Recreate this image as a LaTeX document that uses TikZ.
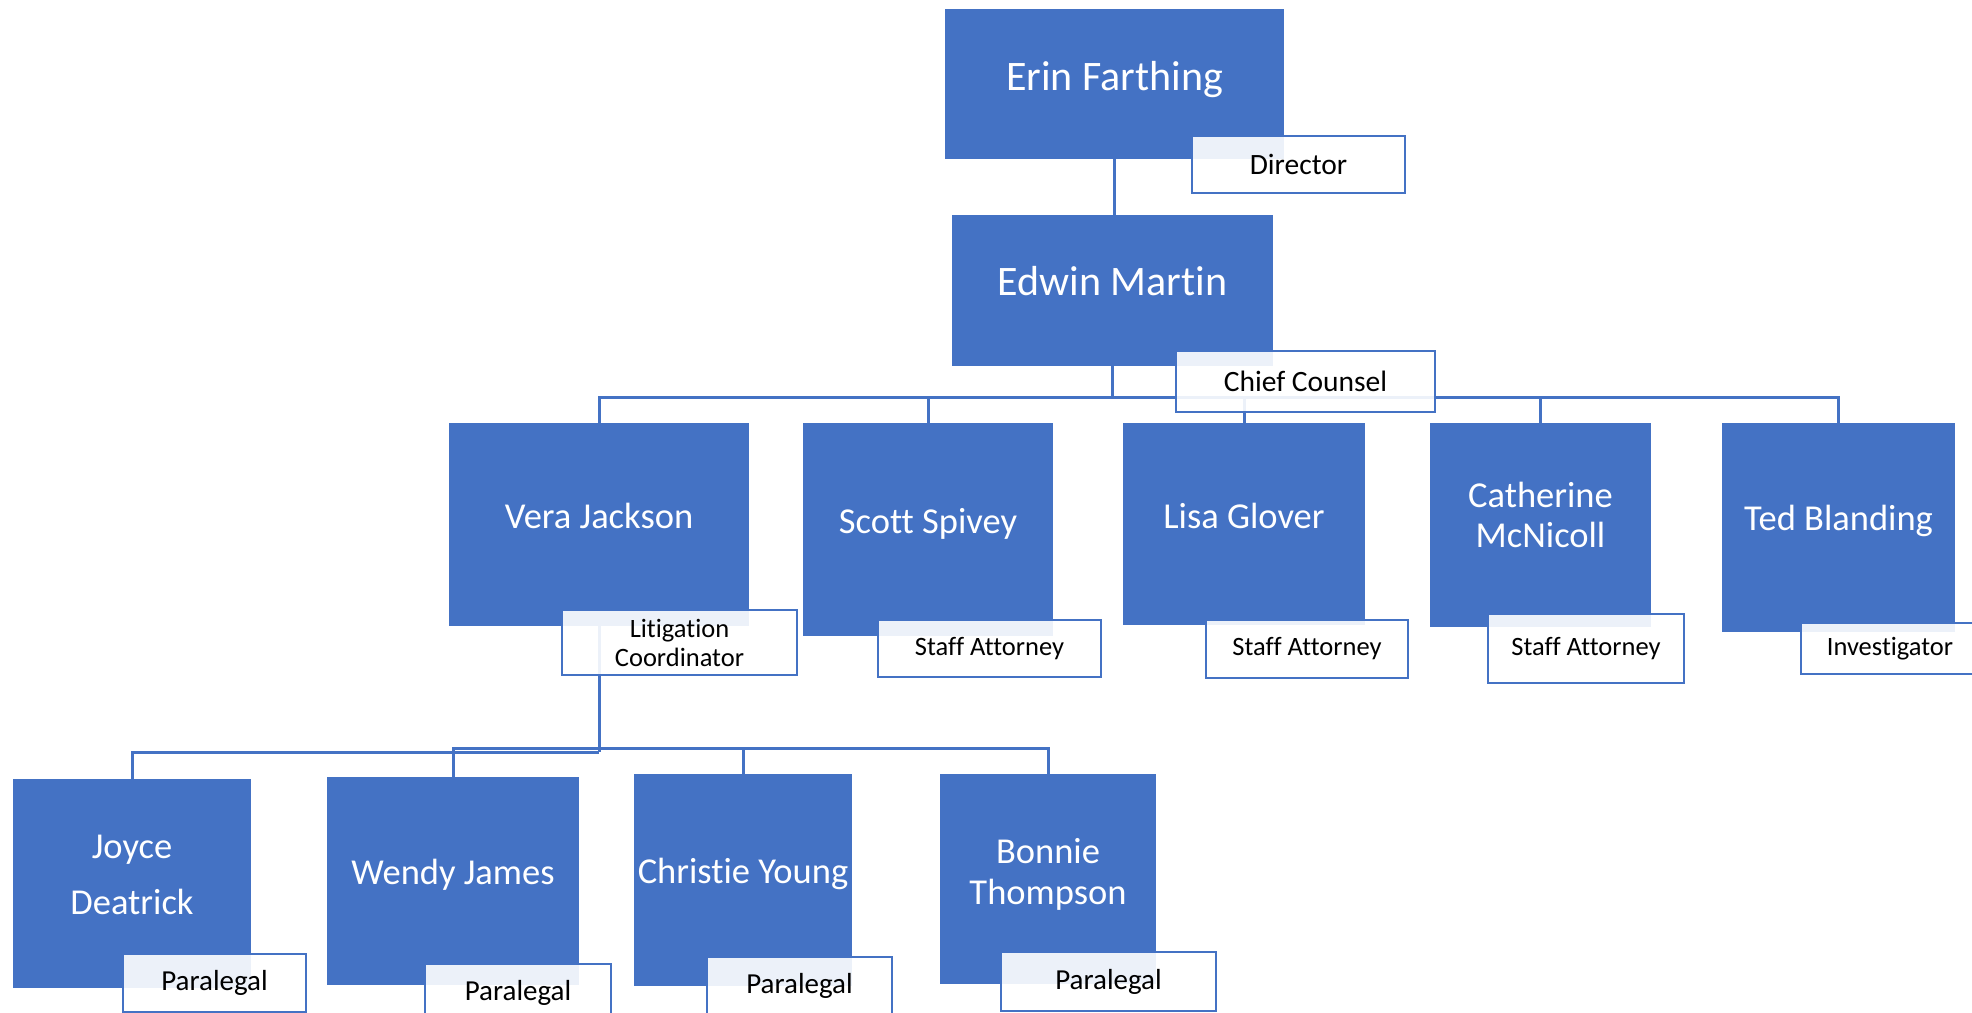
\documentclass[tikz,border=0pt]{standalone}
\usepackage{fontspec}
\setmainfont{Carlito}[RawFeature={-liga;-clig}]
\usetikzlibrary{calc}
\pgfdeclarelayer{background}
\pgfsetlayers{background,main}
\definecolor{orgblue}{HTML}{4472C4}

\begin{document}
\begin{tikzpicture}[x=1pt,y=-1pt,
  person/.style={fill=orgblue, inner sep=0pt, outer sep=0pt},
  pname/.style={text=white, inner sep=0pt, align=center, font=\fontsize{36.5}{40}\selectfont},
  topname/.style={pname, font=\fontsize{42}{46}\selectfont},
  role/.style={draw=orgblue, line width=2.5pt, fill=white, fill opacity=0.9, text opacity=1,
    text=black, inner sep=0pt, align=center, font=\fontsize{26.5}{29}\selectfont},
  bigrole/.style={role, font=\fontsize{29.5}{32}\selectfont},
  parole/.style={role, font=\fontsize{29}{32}\selectfont},
  link/.style={draw=orgblue, line width=3pt}
]
\useasboundingbox (0,0) rectangle (1972,1012);
\clip (0,0) rectangle (1972,1012);

% ---- person boxes ----
\node[person, minimum width=339pt, minimum height=150pt] (erin)     at (1114.5,84)    {};
\node[person, minimum width=321pt, minimum height=151pt] (edwin)    at (1112.5,290.5) {};
\node[person, minimum width=300pt, minimum height=203pt] (vera)     at (599,524.5)    {};
\node[person, minimum width=250pt, minimum height=213pt] (scott)    at (928,529.5)    {};
\node[person, minimum width=242pt, minimum height=202pt] (lisa)     at (1244,524)     {};
\node[person, minimum width=221pt, minimum height=204pt] (cath)     at (1540.5,525)   {};
\node[person, minimum width=233pt, minimum height=209pt] (ted)      at (1838.5,527.5) {};
\node[person, minimum width=238pt, minimum height=209pt] (joyce)    at (132,883.5)    {};
\node[person, minimum width=252pt, minimum height=208pt] (wendy)    at (453,881)      {};
\node[person, minimum width=218pt, minimum height=212pt] (christie) at (743,880)      {};
\node[person, minimum width=216pt, minimum height=210pt] (bonnie)   at (1048,879)     {};

% ---- names ----
\node[topname, anchor=base] (erinT)  at (1114.5,90)  {Erin Farthing};
\node[topname, anchor=base] (edwinT) at (1112.5,295) {Edwin Martin};
\node[pname, anchor=base] (veraT)    at (599,528)    {Vera Jackson};
\node[pname, anchor=base] (scottT)   at (928,533)    {Scott Spivey};
\node[pname, anchor=base] (lisaT)    at (1244,528)   {Lisa Glover};
\node[pname] (cathT)                 at (1540.5,515) {Catherine\\McNicoll};
\node[pname, anchor=base] (tedT)     at (1838.5,530) {Ted Blanding};
\node[pname, font=\fontsize{36.5}{56}\selectfont] (joyceT) at (132,875) {Joyce\\Deatrick};
\node[pname, anchor=base] (wendyT)   at (453,884)    {Wendy James};
\node[pname, anchor=base] (christieT) at (743,883)   {Christie Young};
\node[pname, font=\fontsize{36.5}{41}\selectfont] (bonnieT) at (1048,874) {Bonnie\\Thompson};

% ---- connectors ----
\coordinate (busA) at (0,397);
\coordinate (busB) at (0,748);
\coordinate (busJ) at (0,752);
\begin{pgfonlayer}{background}
  \coordinate (hubA) at (edwin.south |- busA);
  \coordinate (hubB) at (vera.south |- busB);
  \coordinate (hubJ) at (vera.south |- busJ);
  \draw[link] (erin.south) -- (erin.south |- edwin.north);
  \draw[link] (edwin.south) -- (hubA);
  \foreach \c in {vera,scott,lisa,cath,ted} \draw[link] (hubA) -| (\c.north);
  \draw[link] (vera.south) -- (hubJ);
  \draw[link] (hubJ) -| (joyce.north);
  \foreach \c in {wendy,christie,bonnie} \draw[link] (hubB) -| (\c.north);
\end{pgfonlayer}

% ---- role boxes ----
\node[bigrole, minimum width=213pt, minimum height=57pt] (director) at (1298.5,164.5) {Director};
\node[bigrole, minimum width=259pt, minimum height=61pt] (chief)    at (1305.5,381.5) {Chief Counsel};
\node[role, minimum width=235pt, minimum height=65pt] (litco)  at (679.5,642.5) {Litigation\\Coordinator};
\node[role, minimum width=223pt, minimum height=57pt] (sa1)    at (989.5,648.5) {Staff Attorney};
\node[role, minimum width=202pt, minimum height=58pt] (sa2)    at (1307,649)    {Staff Attorney};
\node[role, minimum width=196pt, minimum height=69pt] (sa3)    at (1586,648.5)  {Staff Attorney};
\node[role, minimum width=178pt, minimum height=51pt] (inv)    at (1890,648.5)  {Investigator};
\node[parole, minimum width=183pt, minimum height=58pt] (p1)   at (214.5,983)   {Paralegal};
\node[parole, minimum width=186pt, minimum height=58pt] (p2)   at (518,993)     {Paralegal};
\node[parole, minimum width=185pt, minimum height=58pt] (p3)   at (799.5,986)   {Paralegal};
\node[parole, minimum width=215pt, minimum height=59pt] (p4)   at (1108.5,981.5) {Paralegal};
\end{tikzpicture}
\end{document}
